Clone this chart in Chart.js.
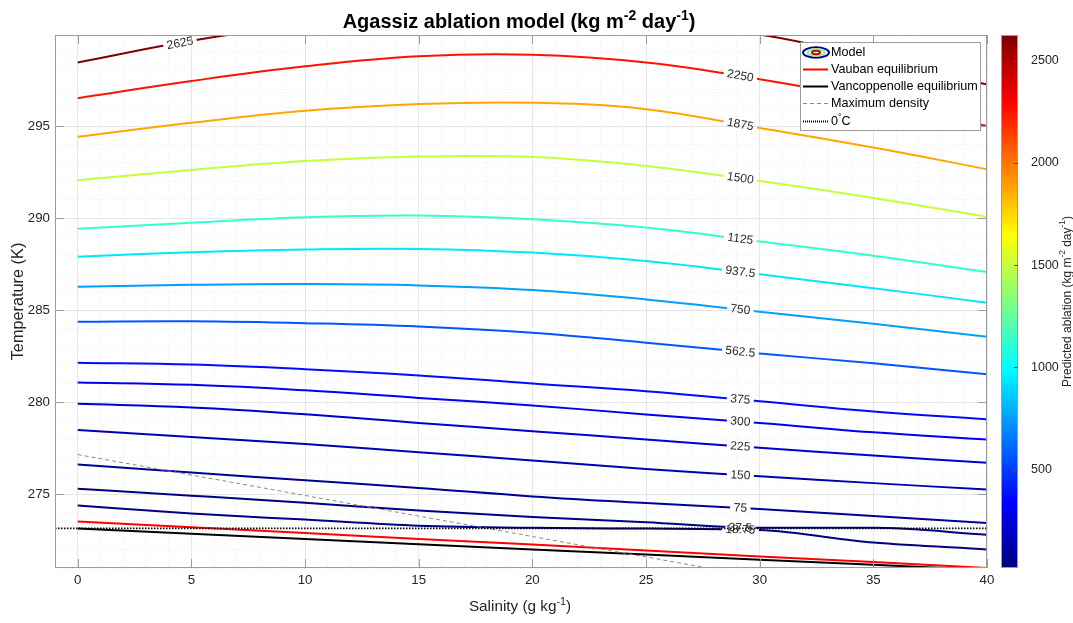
<!DOCTYPE html>
<html>
<head>
<meta charset="utf-8">
<title>Agassiz ablation model</title>
<script src="https://cdn.jsdelivr.net/npm/chart.js@4/dist/chart.umd.min.js"></script>
<style>
  html, body { margin: 0; padding: 0; background: #fff; }
  #wrap { width: 1073px; height: 623px; position: relative; }
</style>
</head>
<body>
<div id="wrap"><canvas id="chart"></canvas></div>
<script>
const salinity = [0, 5, 10, 15, 20, 25, 30, 35, 40];

// contour levels, top to bottom (kg m-2 day-1)
const levels = [2625, 2250, 1875, 1500, 1125, 937.5, 750, 562.5, 375, 300, 225, 150, 75, 37.5, 18.75];

// temperature (K) of each contour at the salinities above
const t2625 = [298.46, 299.64, 300.5, 300.95, 301.05, 300.7, 299.98, 298.69, 297.26];
const t2250 = [296.52, 297.45, 298.25, 298.80, 298.88, 298.46, 297.55, 296.42, 295.01];
const t1875 = [294.42, 295.18, 295.83, 296.20, 296.27, 295.92, 294.90, 293.84, 292.66];
const t1500 = [292.06, 292.62, 293.10, 293.35, 293.32, 292.84, 292.02, 291.10, 290.07];
const t1125 = [289.42, 289.75, 290.05, 290.14, 289.94, 289.49, 288.74, 287.96, 287.07];
const t937 = [287.91, 288.15, 288.30, 288.33, 288.13, 287.67, 286.95, 286.20, 285.41];
const t750 = [286.28, 286.38, 286.42, 286.35, 286.10, 285.59, 284.92, 284.27, 283.56];
const t562 = [284.38, 284.40, 284.30, 284.12, 283.78, 283.24, 282.65, 282.12, 281.52];
const t375 = [282.15, 282.05, 281.80, 281.46, 281.02, 280.60, 280.06, 279.50, 279.08];
const t300 = [281.08, 280.95, 280.65, 280.24, 279.83, 279.34, 278.88, 278.37, 277.98];
const t225 = [279.92, 279.72, 279.35, 278.88, 278.43, 277.98, 277.53, 277.11, 276.71];
const t150 = [278.49, 278.12, 277.73, 277.29, 276.84, 276.38, 275.98, 275.61, 275.26];
const t75 = [276.62, 276.19, 275.76, 275.35, 274.89, 274.53, 274.21, 273.82, 273.45];
const t37 = [275.31, 274.93, 274.54, 274.12, 273.77, 273.48, 273.18, 273.18, 272.81];
const t18 = [274.40, 273.96, 273.63, 273.30, 273.18, 273.14, 273.06, 272.38, 272.01];
const contourTemps = [t2625, t2250, t1875, t1500, t1125, t937, t750, t562, t375, t300, t225, t150, t75, t37, t18];

// other curves
const vaubanTemp = [273.53, 273.21, 272.90, 272.58, 272.27, 271.95, 271.63, 271.32, 271.00];
const vancoppenolleTemp = [273.14, 272.86, 272.58, 272.29, 272.01, 271.73, 271.45, 271.17, 270.89];
const maxDensityTemp = [277.16, 276.05, 274.94, 273.82, 272.71, 271.60, 270.49, 269.38, 268.26];
const freezeSal = [-1, 40];
const freezeTemp = [273.15, 273.15];

// colorbar
const ablationTicks = [500, 1000, 1500, 2000, 2500];
const CMIN = 18.75, CMAX = 2625;

const FONT = '"Liberation Sans", Arial, Helvetica, sans-serif';
const TXT = '#262626';
const AXC = '#9c9c9c';
const LABEL_SAL = 29.15;     // where most contour labels sit
const TOP_LABEL_SAL = 4.5;   // label of the top contour

function jetT(t) {
  const f = c => Math.round(255 * Math.max(0, Math.min(1, 1.5 - Math.abs(4 * t - c))));
  return 'rgb(' + f(3) + ',' + f(2) + ',' + f(1) + ')';
}
const jet = v => jetT((v - CMIN) / (CMAX - CMIN));

const pts = (xs, ys) => xs.map((x, i) => ({x: x, y: ys[i]}));
const isMajor = v => Math.abs(v - Math.round(v / 5) * 5) < 1e-6;

function interp(xs, ys, v) {
  for (let i = 0; i < xs.length - 1; i++) {
    if (v >= xs[i] && v <= xs[i + 1]) {
      const f = (v - xs[i]) / (xs[i + 1] - xs[i]);
      return ys[i] + f * (ys[i + 1] - ys[i]);
    }
  }
  return ys[ys.length - 1];
}

const base = {pointRadius: 0, pointHoverRadius: 0, fill: false, clip: 0, yAxisID: 'y'};
const datasets = [
  Object.assign({}, base, {label: '0°C', data: pts(freezeSal, freezeTemp), borderColor: '#000',
    borderWidth: 1.8, borderDash: [1.5, 1.5], order: 1}),
  Object.assign({}, base, {label: 'Maximum density', data: pts(salinity, maxDensityTemp), borderColor: '#8a8a8a',
    borderWidth: 1, borderDash: [4, 3], order: 2}),
  Object.assign({}, base, {label: 'Vancoppenolle equilibrium', data: pts(salinity, vancoppenolleTemp),
    borderColor: '#000', borderWidth: 2, order: 3}),
  Object.assign({}, base, {label: 'Vauban equilibrium', data: pts(salinity, vaubanTemp),
    borderColor: '#ff0000', borderWidth: 2, order: 4})
];
levels.forEach((lev, i) => {
  const flat = lev < 50;   // the two lowest contours hug the freezing line
  datasets.push(Object.assign({}, base, {
    label: String(lev), data: pts(salinity, contourTemps[i]), borderColor: jet(lev), borderWidth: 2,
    tension: 0.4, cubicInterpolationMode: flat ? 'monotone' : 'default', order: 10,
    contour: true, temps: contourTemps[i],
    labelAt: i === 0 ? TOP_LABEL_SAL : LABEL_SAL
  }));
});

function richText(ctx, parts, x, y, size, bold, align) {
  const sup = size * 0.7;
  const fnt = p => (bold ? 'bold ' : '') + (p[1] ? sup : size) + 'px ' + FONT;
  let total = 0;
  parts.forEach(p => { ctx.font = fnt(p); total += ctx.measureText(p[0]).width; });
  let cx = align === 'center' ? x - total / 2 : x;
  ctx.textAlign = 'left';
  ctx.textBaseline = 'alphabetic';
  parts.forEach(p => {
    ctx.font = fnt(p);
    ctx.fillText(p[0], cx, p[1] ? y - size * 0.42 : y);
    cx += ctx.measureText(p[0]).width;
  });
}

function labelSpot(chart, index) {
  const ds = chart.data.datasets[index];
  const line = chart.getDatasetMeta(index).dataset;
  const xs = chart.scales.x, ys = chart.scales.y;
  const px = xs.getPixelForValue(ds.labelAt);
  let y0 = null, yl = null, yr = null;
  try {
    if (line.updateControlPoints) line.updateControlPoints(chart.chartArea, 'x');
    const at = p => {
      const r = line.interpolate({x: p}, 'x');
      return r && !Array.isArray(r) && isFinite(r.y) ? r.y : null;
    };
    y0 = at(px); yl = at(px - 8); yr = at(px + 8);
  } catch (e) { y0 = null; }
  if (y0 === null || yl === null || yr === null) {
    const f = p => ys.getPixelForValue(interp(salinity, ds.temps, xs.getValueForPixel(p)));
    y0 = f(px); yl = f(px - 8); yr = f(px + 8);
  }
  const ctx = chart.ctx;
  ctx.save();
  ctx.font = '12px ' + FONT;
  const w = ctx.measureText(ds.label).width + 7;
  ctx.restore();
  return {x: px, y: y0, a: Math.atan2(yr - yl, 16), w: w, h: 13};
}

const spots = {};

const decor = {
  id: 'decor',
  beforeDatasetDraw(chart, args) {
    const ds = chart.data.datasets[args.index];
    if (!ds.contour) return;
    const s = labelSpot(chart, args.index);
    spots[args.index] = s;
    const ctx = chart.ctx;
    ctx.save();
    ctx.beginPath();
    ctx.rect(0, 0, chart.width, chart.height);
    ctx.save();
    ctx.translate(s.x, s.y);
    ctx.rotate(s.a);
    ctx.rect(-s.w / 2, -s.h / 2, s.w, s.h);
    ctx.restore();
    ctx.clip('evenodd');
  },
  afterDatasetDraw(chart, args) {
    if (chart.data.datasets[args.index].contour) chart.ctx.restore();
  },
  afterDatasetsDraw(chart) {
    const ctx = chart.ctx;
    const a = chart.chartArea;
    // contour labels
    chart.data.datasets.forEach((ds, i) => {
      if (!ds.contour || !spots[i]) return;
      const s = spots[i];
      ctx.save();
      ctx.translate(s.x, s.y);
      ctx.rotate(s.a);
      ctx.fillStyle = '#2b2b2b';
      ctx.font = '12px ' + FONT;
      ctx.textAlign = 'center';
      ctx.textBaseline = 'middle';
      ctx.fillText(ds.label, 0, 0.5);
      ctx.restore();
    });
    // axes box and inward ticks
    ctx.save();
    ctx.strokeStyle = AXC;
    ctx.lineWidth = 1;
    ctx.strokeRect(Math.round(a.left) + 0.5, Math.round(a.top) + 0.5,
      Math.round(a.right - a.left) - 1, Math.round(a.bottom - a.top) - 1);
    ctx.beginPath();
    chart.scales.x.ticks.forEach(t => {
      if (t.value < 0 || !isMajor(t.value)) return;
      const p = Math.round(chart.scales.x.getPixelForValue(t.value)) + 0.5;
      ctx.moveTo(p, a.bottom); ctx.lineTo(p, a.bottom - 9);
      ctx.moveTo(p, a.top); ctx.lineTo(p, a.top + 9);
    });
    chart.scales.y.ticks.forEach(t => {
      if (!isMajor(t.value)) return;
      const p = Math.round(chart.scales.y.getPixelForValue(t.value)) + 0.5;
      ctx.moveTo(a.left, p); ctx.lineTo(a.left + 9, p);
      ctx.moveTo(a.right, p); ctx.lineTo(a.right - 9, p);
    });
    ctx.stroke();
    ctx.restore();
  },
  afterDraw(chart) {
    const ctx = chart.ctx;
    const a = chart.chartArea;
    const cx = (a.left + a.right) / 2, cy = (a.top + a.bottom) / 2;
    ctx.save();
    ctx.fillStyle = '#000';
    richText(ctx, [['Agassiz ablation model (kg m'], ['-2', 1], [' day'], ['-1', 1], [')']], cx - 2, 28, 20, true, 'center');
    ctx.fillStyle = TXT;
    richText(ctx, [['Salinity (g kg'], ['-1', 1], [')']], cx - 1, 611, 15.3, false, 'center');
    ctx.save();
    ctx.translate(22.5, cy);
    ctx.rotate(-Math.PI / 2);
    richText(ctx, [['Temperature (K)']], 0, 0, 16.3, false, 'center');
    ctx.restore();

    // colorbar
    const cb = chart.scales.cb;
    const bx = cb.left + 14, bw = 17;
    const g = ctx.createLinearGradient(0, a.bottom, 0, a.top);
    for (let i = 0; i <= 64; i++) g.addColorStop(i / 64, jetT(i / 64));
    ctx.fillStyle = g;
    ctx.fillRect(bx, a.top, bw, a.bottom - a.top);
    ctx.strokeStyle = AXC;
    ctx.lineWidth = 1;
    ctx.strokeRect(bx + 0.5, a.top + 0.5, bw - 1, a.bottom - a.top - 1);
    ctx.strokeStyle = '#555';
    ctx.beginPath();
    cb.ticks.forEach(t => {
      const p = Math.round(cb.getPixelForValue(t.value)) + 0.5;
      ctx.moveTo(bx + bw - 4, p); ctx.lineTo(bx + bw, p);
    });
    ctx.stroke();
    ctx.fillStyle = TXT;
    ctx.save();
    ctx.translate(1070.5, cy);
    ctx.rotate(-Math.PI / 2);
    richText(ctx, [['Predicted ablation (kg m'], ['-2', 1], [' day'], ['-1', 1], [')']], 0, 0, 12, false, 'center');
    ctx.restore();

    // legend
    const L = {x: 800.5, y: 42.5, w: 180, h: 88};
    ctx.fillStyle = '#fff';
    ctx.fillRect(L.x, L.y, L.w, L.h);
    ctx.strokeStyle = AXC;
    ctx.strokeRect(L.x, L.y, L.w, L.h);
    const rowY = i => 52.5 + i * 16.8 + (i === 4 ? 0.8 : 0);
    // model icon: nested contour rings
    const my = rowY(0);
    [['#00008f', 13, 5.2], ['#7fff7f', 8.5, 3.3], ['#c00000', 4, 1.7]].forEach(r => {
      ctx.beginPath();
      ctx.ellipse(816, my, r[1], r[2], 0, 0, Math.PI * 2);
      ctx.strokeStyle = r[0];
      ctx.lineWidth = 2;
      ctx.stroke();
    });
    const LF = '12.6px ' + FONT;
    ctx.fillStyle = '#000';
    ctx.font = LF;
    ctx.textAlign = 'left';
    ctx.textBaseline = 'middle';
    ctx.fillText('Model', 831, my + 0.5);
    const legendSets = ['Vauban equilibrium', 'Vancoppenolle equilibrium', 'Maximum density', '0°C'];
    legendSets.forEach((name, k) => {
      const ds = chart.data.datasets.find(d => d.label === name);
      const y = rowY(k + 1);
      ctx.save();
      ctx.strokeStyle = ds.borderColor;
      ctx.lineWidth = ds.borderWidth > 1.5 ? 2 : 1;
      ctx.setLineDash(ds.borderDash ? (name === '0°C' ? [1, 1] : ds.borderDash) : []);
      ctx.beginPath();
      ctx.moveTo(803, Math.round(y) + 0.5);
      ctx.lineTo(828, Math.round(y) + 0.5);
      ctx.stroke();
      ctx.restore();
      ctx.fillStyle = '#000';
      if (name === '0°C') {
        richText(ctx, [['0'], ['°', 1], ['C']], 831, y + 4.5, 12.6, false, 'left');
      } else {
        ctx.font = LF;
        ctx.textAlign = 'left';
        ctx.textBaseline = 'middle';
        ctx.fillText(name, 831, y + 0.5);
      }
    });
    ctx.restore();
  }
};

const gridColor = c => (c.tick && isMajor(c.tick.value)) ? '#e6e6e6' : '#efefef';
const gridDash = c => (c.tick && isMajor(c.tick.value)) ? [] : [1, 2];

Chart.defaults.font.family = FONT;

new Chart(document.getElementById('chart'), {
  type: 'line',
  data: {datasets: datasets},
  options: {
    responsive: true,
    maintainAspectRatio: false,
    devicePixelRatio: 1,
    animation: false,
    events: [],
    layout: {padding: {top: 35, left: 0, right: 0, bottom: 0}},
    plugins: {legend: {display: false}, tooltip: {enabled: false}, title: {display: false}},
    scales: {
      x: {
        type: 'linear', min: -1, max: 40,
        afterFit: s => { s.height = 55; },
        ticks: {
          stepSize: 1, autoSkip: false, maxRotation: 0, padding: 4, color: TXT, font: {size: 13.3},
          callback: v => (v >= 0 && isMajor(v)) ? String(Math.round(v)) : ''
        },
        grid: {color: gridColor, drawTicks: false, lineWidth: 1},
        border: {display: false, dash: gridDash}
      },
      y: {
        type: 'linear', position: 'left', min: 271, max: 299.95,
        afterFit: s => { s.width = 55; },
        ticks: {
          stepSize: 1, autoSkip: false, padding: 5, color: TXT, font: {size: 13.3},
          callback: v => isMajor(v) ? String(Math.round(v)) : ''
        },
        grid: {color: gridColor, drawTicks: false, lineWidth: 1},
        border: {display: false, dash: gridDash}
      },
      cb: {
        type: 'linear', position: 'right', min: CMIN, max: CMAX,
        afterFit: s => { s.width = 86; },
        afterBuildTicks: s => { s.ticks = ablationTicks.map(v => ({value: v})); },
        ticks: {padding: 2, color: TXT, font: {size: 12.5}, callback: v => String(v)},
        grid: {drawOnChartArea: false, drawTicks: true, tickLength: 42, color: 'rgba(0,0,0,0)'},
        border: {display: false}
      }
    }
  },
  plugins: [decor]
});
</script>
</body>
</html>
